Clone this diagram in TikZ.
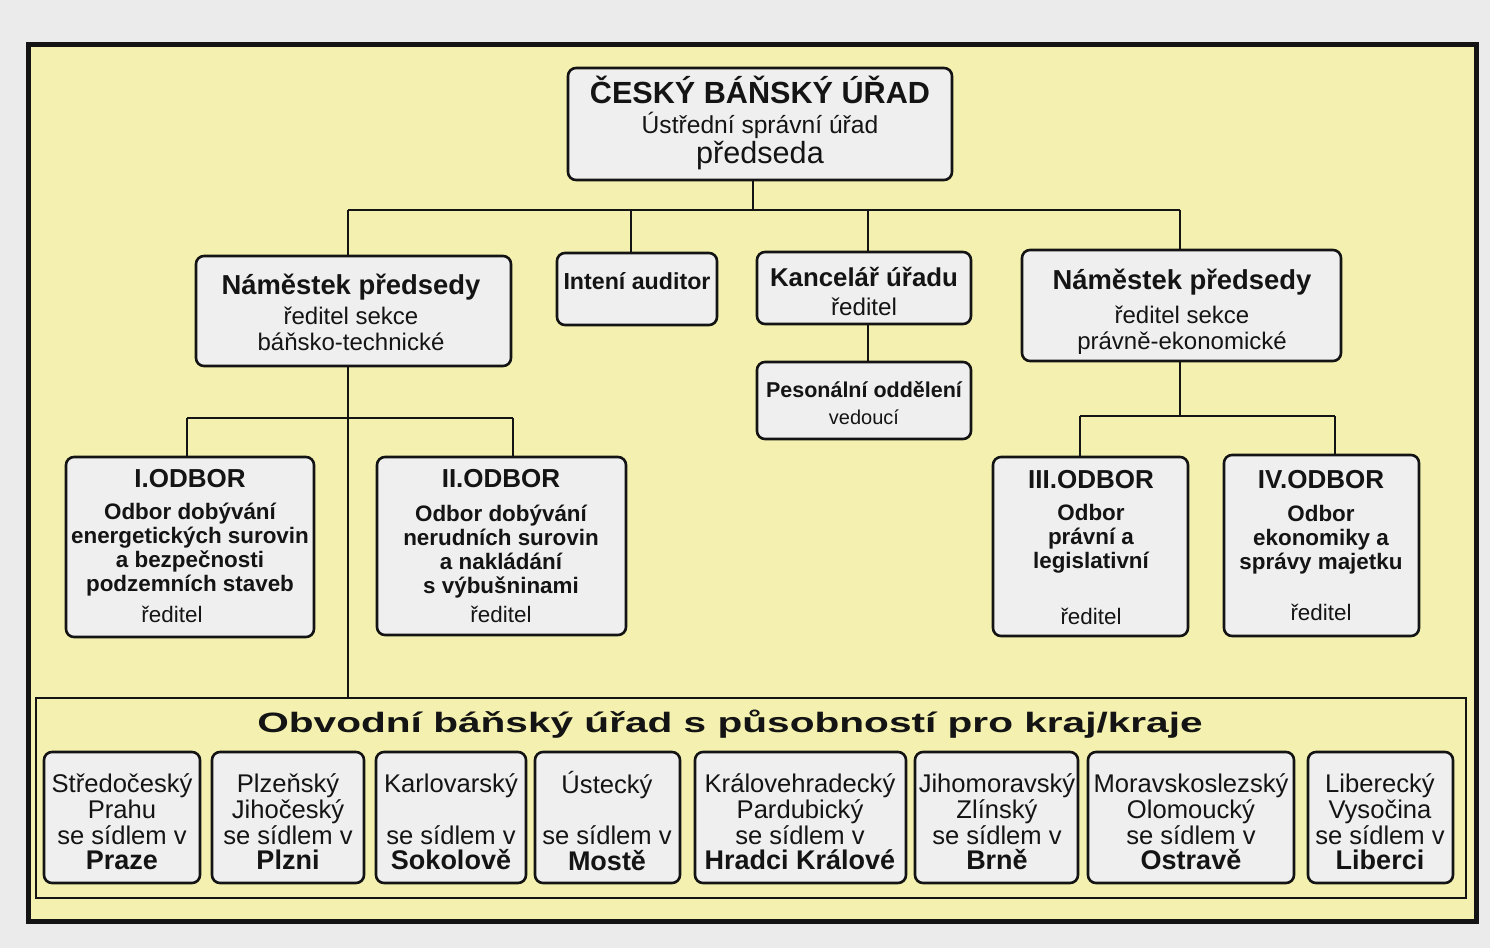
\documentclass[tikz,border=0pt]{standalone}
\usepackage{fontspec}
\setmainfont{Liberation Sans}
\usepackage{graphicx}
\usetikzlibrary{fit}
\definecolor{bgc}{RGB}{235,235,235}
\definecolor{ylw}{RGB}{244,241,176}
\definecolor{boxc}{RGB}{239,239,239}
\definecolor{ink}{RGB}{20,20,20}
\newcommand{\fs}[2]{\fontsize{#1}{#2}\selectfont}
\begin{document}
\begin{tikzpicture}[x=0.5pt,y=-0.5pt,
  box/.style={draw=ink, line width=1.3pt, fill=boxc, rounded corners=4pt, inner sep=0pt},
  txt/.style={align=center, inner sep=0pt, text=ink},
  conn/.style={draw=ink, line width=1.1pt}]
\fill[bgc] (0,0) rectangle (1490,948);
\useasboundingbox (0,0) rectangle (1490,948);
\node[draw=ink, fill=ylw, line width=2.5pt, inner sep=0pt, fit={(28,44) (1476,921)}] (frame) {};
\node[draw=ink, line width=1pt, inner sep=0pt, fit={(36,698) (1466,898)}] (obv) {};

% boxes
\node[box, fit={(568,68) (952,180)}] (top) {};
\node[box, fit={(196,256) (511,366)}] (namL) {};
\node[box, fit={(557,253) (717,325)}] (aud) {};
\node[box, fit={(757,252) (971,324)}] (kanc) {};
\node[box, fit={(757,362) (971,439)}] (pers) {};
\node[box, fit={(1022,250) (1341,361)}] (namR) {};
\node[box, fit={(66,457) (314,637)}] (od1) {};
\node[box, fit={(377,457) (626,635)}] (od2) {};
\node[box, fit={(993,457) (1188,636)}] (od3) {};
\node[box, fit={(1224,455) (1419,636)}] (od4) {};
\node[box, fit={(44,752) (200,883)}] (ba) {};
\node[box, fit={(212,752) (364,883)}] (bb) {};
\node[box, fit={(376,752) (526,883)}] (bc) {};
\node[box, fit={(535,752) (680,883)}] (bd) {};
\node[box, fit={(695,752) (906,883)}] (be) {};
\node[box, fit={(915,752) (1078,883)}] (bf) {};
\node[box, fit={(1088,752) (1294,883)}] (bg) {};
\node[box, fit={(1308,752) (1453,883)}] (bh) {};

% texts
\node[txt, font=\fs{12.3}{15}] (topT) at (760,123)
  {{\fs{15.3}{15}\bfseries ČESKÝ BÁŇSKÝ ÚŘAD}\\ Ústřední správní úřad\\ {\fs{15.3}{15}předseda}};
\node[txt, font=\fs{12}{13}] (namLT) at (351,312)
  {{\fs{13.7}{13}\bfseries Náměstek předsedy}\\[2pt] ředitel sekce\\ báňsko-technické};
\node[txt, font=\fs{11.6}{13}\bfseries] (audT) at (637,281) {Intení auditor};
\node[txt, font=\fs{12.1}{14.5}] (kancT) at (864,291)
  {{\fs{12.9}{14.5}\bfseries Kancelář úřadu}\\ ředitel};
\node[txt, font=\fs{10}{13.5}] (persT) at (864,403)
  {{\fs{10.75}{13.5}\bfseries Pesonální oddělení}\\ vedoucí};
\node[txt, font=\fs{12}{13}] (namRT) at (1182,312)
  {{\fs{13.7}{13}\bfseries Náměstek předsedy}\\[4pt] ředitel sekce\\ právně-ekonomické};
\node[txt, font=\fs{11.2}{12}\bfseries] (od1T) at (190,546)
  {{\fs{13}{12}I.ODBOR}\\[4pt] Odbor dobývání\\ energetických surovin\\ a bezpečnosti\\ podzemních staveb\\[3.5pt] {\mdseries ředitel\hspace*{18pt}}};
\node[txt, font=\fs{11.2}{12}\bfseries] (od2T) at (501,546)
  {{\fs{13}{12}II.ODBOR}\\[5pt] Odbor dobývání\\ nerudních surovin\\ a nakládání\\ s výbušninami\\[2.5pt] {\mdseries ředitel}};
\node[txt, font=\fs{11.2}{12}\bfseries] (od3T) at (1091,548)
  {{\fs{13}{12}III.ODBOR}\\[4pt] Odbor\\ právní a\\ legislativní\\[16pt] {\mdseries ředitel}};
\node[txt, font=\fs{11.2}{12}\bfseries] (od4T) at (1321,546)
  {{\fs{13}{12}IV.ODBOR}\\[4.5pt] Odbor\\ ekonomiky a\\ správy majetku\\[13.5pt] {\mdseries ředitel}};
\node[txt] (obvT) at (730,724)
  {\scalebox{1.45}[1]{\fs{14}{14}\bfseries Obvodní báňský úřad s působností pro kraj/kraje}};
\tikzset{btxt/.style={txt, font=\fs{12.8}{12.85}}}
\newcommand{\bbf}[1]{{\fs{13.5}{12.85}\bfseries #1}}
\node[btxt] (baT) at (122,822) {Středočeský\\ Prahu\\ se sídlem v\\ \bbf{Praze}};
\node[btxt] (bbT) at (288,822) {Plzeňský\\ Jihočeský\\ se sídlem v\\ \bbf{Plzni}};
\node[btxt] (bcT) at (451,822) {Karlovarský\\ ~\\ se sídlem v\\ \bbf{Sokolově}};
\node[btxt] (bdT) at (607,821) {Ústecký\\ ~\\ se sídlem v\\ \bbf{Mostě}};
\node[btxt] (beT) at (800,822) {Královehradecký\\ Pardubický\\ se sídlem v\\ \bbf{Hradci Králové}};
\node[btxt] (bfT) at (997,822) {Jihomoravský\\ Zlínský\\ se sídlem v\\ \bbf{Brně}};
\node[btxt] (bgT) at (1191,822) {Moravskoslezský\\ Olomoucký\\ se sídlem v\\ \bbf{Ostravě}};
\node[btxt] (bhT) at (1380,822) {Liberecký\\ Vysočina\\ se sídlem v\\ \bbf{Liberci}};

% connectors
\coordinate (bT) at (753,210);
\coordinate (bL) at (348,210);
\coordinate (bA) at (631,210);
\coordinate (bK) at (868,210);
\coordinate (bR) at (1180,210);
\coordinate (l1) at (187,418);
\coordinate (l2) at (513,418);
\coordinate (r1) at (1080,416);
\coordinate (r2) at (1335,416);
\draw[conn] (bT |- top.south) -- (bT);
\draw[conn] (bL) -- (bR);
\draw[conn] (bL) -- (bL |- namL.north);
\draw[conn] (bA) -- (bA |- aud.north);
\draw[conn] (bK) -- (bK |- kanc.north);
\draw[conn] (bR) -- (bR |- namR.north);
\draw[conn] (bK |- kanc.south) -- (bK |- pers.north);
\draw[conn] (bL |- namL.south) -- (bL |- obv.north);
\draw[conn] (l1) -- (l2);
\draw[conn] (l1) -- (l1 |- od1.north);
\draw[conn] (l2) -- (l2 |- od2.north);
\draw[conn] (bR |- namR.south) -- (bR |- r1);
\draw[conn] (r1) -- (r2);
\draw[conn] (r1) -- (r1 |- od3.north);
\draw[conn] (r2) -- (r2 |- od4.north);
\end{tikzpicture}
\end{document}
